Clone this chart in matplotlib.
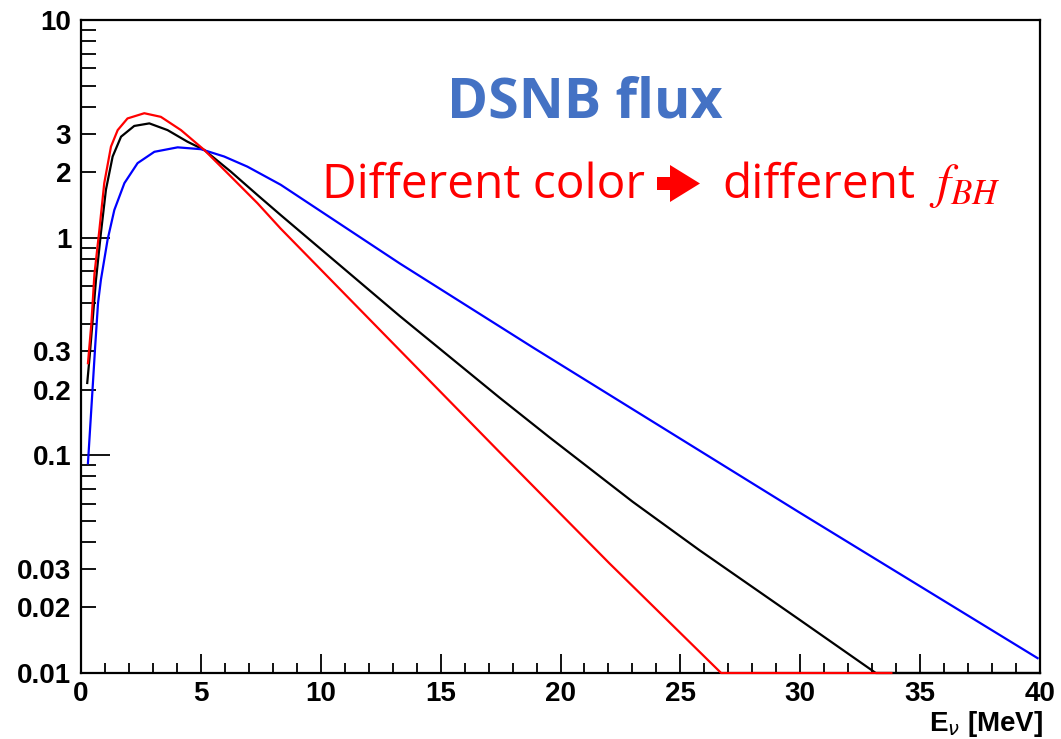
import matplotlib
matplotlib.use('Agg')
import matplotlib.pyplot as plt
from matplotlib.patches import FancyArrow
from matplotlib.ticker import FixedLocator, FuncFormatter, MultipleLocator

# Curves (E in MeV, flux); flat parts sit on the 0.01 floor
red_e = [0.29, 0.43, 0.56, 0.76, 0.97, 1.25, 1.53, 1.94, 2.64, 3.33, 4.17, 5.14, 6.25, 7.36, 8.33,
         17.4, 22.04, 26.7, 33.8]
red_f = [0.265, 0.40, 0.68, 1.07, 1.78, 2.62, 3.12, 3.53, 3.73, 3.59, 3.12, 2.53, 1.91, 1.44, 1.10,
         0.105, 0.0319, 0.01, 0.01]

black_e = [0.26, 0.36, 0.625, 0.83, 1.04, 1.32, 1.67, 2.22, 2.85, 3.61, 4.44, 5.14, 6.25, 7.36, 8.33,
           13.29, 17.46, 19.54, 23.01, 25.79, 29.96, 33.15, 40.0]
black_f = [0.215, 0.284, 0.64, 1.05, 1.66, 2.36, 2.91, 3.26, 3.35, 3.12, 2.76, 2.53, 2.01, 1.57, 1.27,
           0.437, 0.184, 0.121, 0.0612, 0.0367, 0.0176, 0.01, 0.01]

blue_e = [0.29, 0.48, 0.59, 0.71, 0.83, 1.11, 1.39, 1.81, 2.36, 3.06, 4.03, 5.0, 5.97, 6.94, 8.33,
          13.29, 18.85, 29.96, 39.9]
blue_f = [0.092, 0.2, 0.315, 0.5, 0.64, 0.98, 1.34, 1.78, 2.20, 2.48, 2.60, 2.55, 2.36, 2.12, 1.75,
          0.762, 0.313, 0.0547, 0.0117]

ytick_labelled = [0.01, 0.02, 0.03, 0.1, 0.2, 0.3, 1, 2, 3, 10]

fig = plt.figure(figsize=(10.61, 7.39), dpi=100)
ax = fig.add_axes([81/1061, 1 - 673/739, (1040 - 81)/1061, (673 - 20)/739])

ax.plot(black_e, black_f, color='black', lw=1.6, clip_on=False, zorder=3)
ax.plot(blue_e, blue_f, color='blue', lw=1.6, clip_on=False, zorder=3)
ax.plot(red_e, red_f, color='red', lw=1.6, clip_on=False, zorder=4)

ax.set_yscale('log')
ax.set_xlim(0, 40)
ax.set_ylim(0.01, 10)

# ROOT-like axes: ticks inside, left and bottom only
ax.xaxis.set_major_locator(MultipleLocator(5))
ax.xaxis.set_minor_locator(MultipleLocator(1))
ax.yaxis.set_major_locator(FixedLocator([0.01, 0.1, 1, 10]))
minors = [m * d for d in (0.01, 0.1, 1) for m in range(2, 10)]
ax.yaxis.set_minor_locator(FixedLocator(minors))

def ylab(v, pos):
    for t in ytick_labelled:
        if abs(v - t) < 1e-9 * max(1, t):
            return f'{t:g}'
    return ''

ax.yaxis.set_major_formatter(FuncFormatter(ylab))
ax.yaxis.set_minor_formatter(FuncFormatter(ylab))
ax.xaxis.set_major_formatter(FuncFormatter(lambda v, p: f'{v:g}'))

ax.tick_params(axis='both', which='both', direction='in', top=False, right=False,
               width=1.3, labelsize=20, colors='black')
ax.tick_params(axis='y', which='major', length=21, pad=7)
ax.tick_params(axis='y', which='minor', length=11, pad=7)
ax.tick_params(axis='x', which='major', length=14, pad=6)
ax.tick_params(axis='x', which='minor', length=7, pad=6)
for lab in ax.get_xticklabels() + ax.get_yticklabels(minor=False) + ax.get_yticklabels(minor=True):
    lab.set_fontfamily('Liberation Sans')
    lab.set_fontweight('bold')

for s in ax.spines.values():
    s.set_linewidth(1.6)

fig.text(1043/1061, 1 - 724/739, r'E$_\nu$ [MeV]', ha='right', va='center',
         fontsize=20, fontfamily='Liberation Sans', fontweight='bold')

# annotations
fig.text(447/1061, 1 - 118/739, 'DSNB flux', ha='left', va='baseline',
         fontsize=40, fontweight='bold', color='#4472C4', fontfamily='Open Sans')
fig.text(322/1061, 1 - 198/739, 'Different color', ha='left', va='baseline',
         fontsize=34.5, color='red', fontfamily='Open Sans')
fig.add_artist(FancyArrow(6.57, (739 - 183.5)/100, 0.43, 0, width=0.13, head_width=0.37,
                          head_length=0.30, length_includes_head=True,
                          transform=fig.dpi_scale_trans, color='red', lw=0))
fig.text(722/1061, 1 - 198/739, 'different', ha='left', va='baseline',
         fontsize=34.5, color='red', fontfamily='Open Sans')
fig.text(929/1061, 1 - 198/739, '$f_{BH}$', ha='left', va='baseline',
         fontsize=36, color='red', math_fontfamily='stix')

fig.savefig('out.png', dpi=100)
